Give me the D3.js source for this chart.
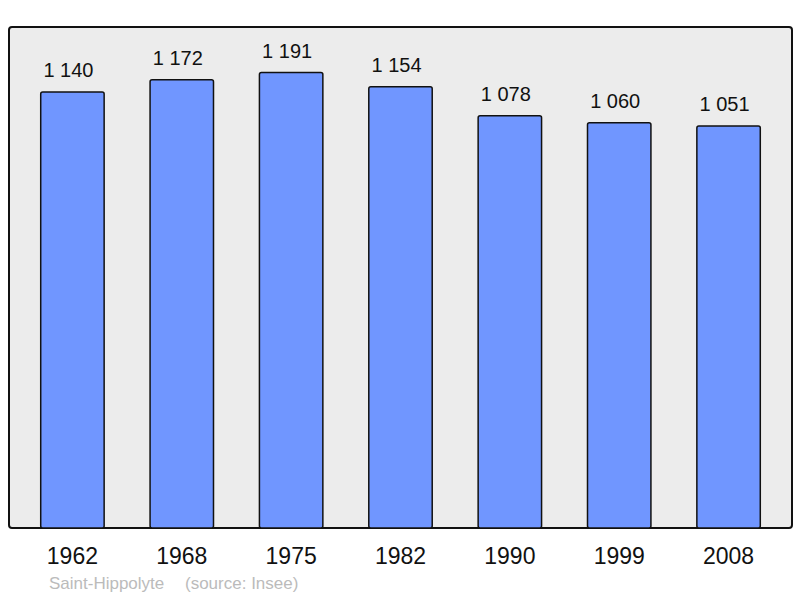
<!DOCTYPE html>
<html>
<head>
<meta charset="utf-8">
<script src="https://cdn.jsdelivr.net/npm/d3@7"></script>
<style>
  body { margin: 0; background: #fff; }
  text { font-family: "Liberation Sans", Arial, sans-serif; }
</style>
</head>
<body>
<div id="chart"></div>
<script>
const years = ["1962", "1968", "1975", "1982", "1990", "1999", "2008"];
const population = [1140, 1172, 1191, 1154, 1078, 1060, 1051];
const placeName = "Saint-Hippolyte";
const sourceText = "(source: Insee)";

const width = 800, height = 598;
const panel = { left: 9, top: 27, right: 792, bottom: 528 };

let svg = d3.select("#chart")
    .append("svg")
    .attr("width", width)
    .attr("height", height);

svg.append("rect")
    .attr("x", panel.left)
    .attr("y", panel.top)
    .attr("width", panel.right - panel.left)
    .attr("height", panel.bottom - panel.top)
    .attr("rx", 3)
    .attr("fill", "#ececec")
    .attr("stroke", "#111")
    .attr("stroke-width", 2);

let x = d3.scaleBand()
    .domain(years)
    .range([panel.left, panel.right])
    .paddingInner(0.42)
    .paddingOuter(0.29);

let y = d3.scaleLinear()
    .domain([0, d3.max(population) * 1.1])
    .range([panel.bottom, panel.top]);

let data = years.map((yr, i) => ({ year: yr, value: population[i] }));

svg.selectAll(".bar")
    .data(data)
    .enter()
    .append("rect")
    .attr("class", "bar")
    .attr("x", d => x(d.year))
    .attr("y", d => y(d.value))
    .attr("width", x.bandwidth())
    .attr("height", d => y(0) - y(d.value))
    .attr("rx", 2)
    .attr("fill", "#7096ff")
    .attr("stroke", "#111")
    .attr("stroke-width", 1.5);

// value labels, french thousands separator
svg.selectAll(".val")
    .data(data)
    .enter()
    .append("text")
    .attr("class", "val")
    .attr("x", d => x(d.year) + x.bandwidth() / 2 - 4)
    .attr("y", d => y(d.value) - 15)
    .attr("text-anchor", "middle")
    .style("font-size", "20px")
    .attr("fill", "#111")
    .text(d => d3.format(",")(d.value).replace(",", " "));

svg.selectAll(".yr")
    .data(years)
    .enter()
    .append("text")
    .attr("class", "yr")
    .attr("x", d => x(d) + x.bandwidth() / 2)
    .attr("y", 564)
    .attr("text-anchor", "middle")
    .style("font-size", "23px")
    .attr("fill", "#111")
    .text(d => d);

svg.append("text")
    .attr("x", 49)
    .attr("y", 589)
    .style("font-size", "17px")
    .attr("fill", "#bbb")
    .text(placeName);

svg.append("text")
    .attr("x", 185)
    .attr("y", 589)
    .style("font-size", "17px")
    .attr("fill", "#bbb")
    .text(sourceText);
</script>
</body>
</html>
